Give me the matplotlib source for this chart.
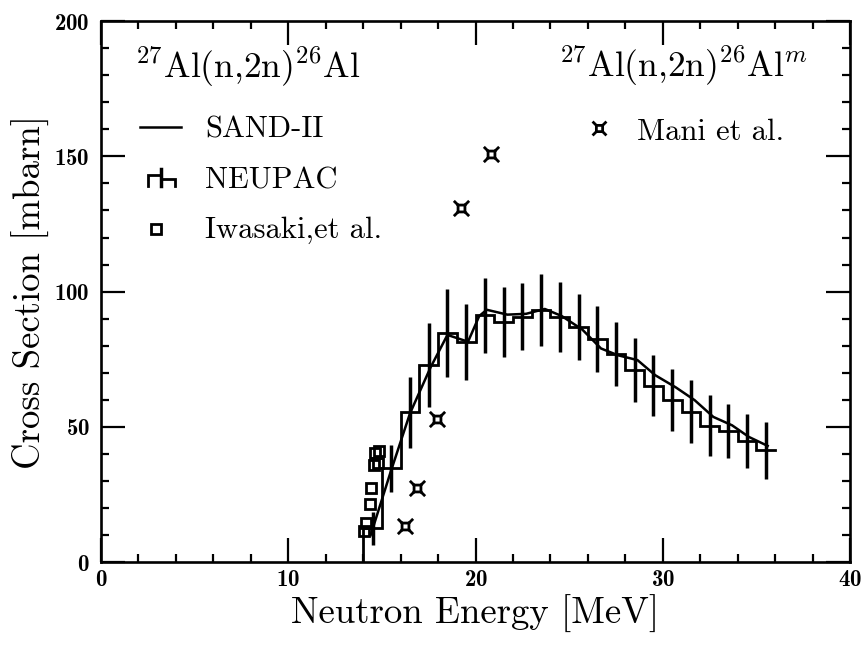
import matplotlib
matplotlib.use("Agg")
import matplotlib.pyplot as plt
from matplotlib.path import Path
from matplotlib.ticker import MultipleLocator

plt.rcParams['font.family'] = 'serif'
plt.rcParams['font.serif'] = ['cmr10', 'DejaVu Serif']
plt.rcParams['mathtext.fontset'] = 'cm'
plt.rcParams['axes.formatter.use_mathtext'] = True

# NEUPAC: 1 MeV bins from 14 to 36 MeV
neupac_edges = list(range(14, 37))
neupac_vals = [12.5, 34.7, 55.4, 72.8, 84.7, 81.4, 91.3, 88.8, 90.8, 93.3, 90.7,
               87.0, 82.5, 77.0, 71.0, 65.3, 60.0, 55.6, 50.5, 48.5, 44.8, 41.4]
neupac_err = [6.0, 8.7, 13.0, 15.5, 16.3, 14.2, 13.9, 13.0, 12.3, 13.3, 13.0,
              12.3, 12.3, 11.7, 11.7, 11.4, 11.4, 11.7, 11.4, 10.0, 9.9, 10.5]

# SAND-II evaluated curve
sand_e = [14.4, 15.45, 16.5, 17.6, 18.5, 19.6, 20.2, 20.6, 21.7, 22.7, 23.7, 24.6,
          25.7, 26.7, 27.6, 28.65, 29.6, 30.7, 31.7, 32.7, 33.7, 34.6, 35.6]
sand_xs = [10.0, 33.0, 55.0, 72.0, 84.0, 81.5, 91.0, 93.3, 91.5, 91.8, 93.6, 91.0,
           86.0, 79.0, 76.5, 74.7, 69.1, 64.6, 59.9, 53.7, 50.6, 46.3, 43.0]

# Iwasaki et al.
iwa_e = [14.05, 14.15, 14.35, 14.4, 14.6, 14.8, 14.65, 14.85]
iwa_xs = [11.5, 14.5, 21.5, 27.5, 36.0, 36.5, 40.5, 41.0]

# Mani et al. (26Al m)
mani_e = [16.25, 16.9, 17.95, 19.2, 20.85]
mani_xs = [13.5, 27.5, 53.0, 131.0, 151.0]

# marker: small square with diagonal spikes at the corners
s = 0.45
verts = [(-s, -s), (s, -s), (s, s), (-s, s), (-s, -s),
         (-s, -s), (-1, -1), (s, -s), (1, -1), (s, s), (1, 1), (-s, s), (-1, 1)]
codes = [Path.MOVETO, Path.LINETO, Path.LINETO, Path.LINETO, Path.CLOSEPOLY,
         Path.MOVETO, Path.LINETO, Path.MOVETO, Path.LINETO, Path.MOVETO, Path.LINETO,
         Path.MOVETO, Path.LINETO]
mani_marker = Path(verts, codes)

fig = plt.figure(figsize=(8.63, 6.47), dpi=100)
ax = fig.add_axes([0.117, 0.131, 0.868, 0.8365])

# NEUPAC histogram
hx = [neupac_edges[0]]
hy = [0]
for i, v in enumerate(neupac_vals):
    hx += [neupac_edges[i], neupac_edges[i + 1]]
    hy += [v, v]
ax.plot(hx, hy, color='black', lw=2.0, solid_joinstyle='miter')
centers = [(neupac_edges[i] + neupac_edges[i + 1]) / 2 for i in range(len(neupac_vals))]
ax.errorbar(centers, neupac_vals, yerr=neupac_err, fmt='none', ecolor='black',
            elinewidth=2.5, capsize=0)

ax.plot(sand_e, sand_xs, color='black', lw=1.8)
ax.plot(iwa_e, iwa_xs, ls='none', marker='s', ms=7, mfc='none', mec='black', mew=2.0)
ax.plot(mani_e, mani_xs, ls='none', marker=mani_marker, ms=11, mfc='none',
        mec='black', mew=2.0)

ax.set_xlim(0, 40)
ax.set_ylim(0, 200)
ax.xaxis.set_major_locator(MultipleLocator(10))
ax.xaxis.set_minor_locator(MultipleLocator(2))
ax.yaxis.set_major_locator(MultipleLocator(50))
ax.yaxis.set_minor_locator(MultipleLocator(10))
ax.tick_params(which='both', direction='in', top=True, right=True, width=1.6,
               labelsize=16.5, labelfontfamily='cmb10')
ax.tick_params(which='major', length=17)
ax.tick_params(which='minor', length=6)
ax.tick_params(axis='x', pad=5)
ax.tick_params(axis='y', pad=8)
for sp in ax.spines.values():
    sp.set_linewidth(1.9)

# text positions in axes fraction (from pixel layout)
def fx(px):
    return (px - 101) / 749.0

def fy(py):
    return (562 - py) / 541.0

ax.set_xlabel('Neutron Energy [MeV]', fontsize=26.5)
ax.xaxis.set_label_coords(0.5, fy(595))
ax.set_ylabel('Cross Section [mbarn]', fontsize=26.5)
ax.yaxis.set_label_coords(fx(50), 0.5)

ax.text(fx(135), fy(78), r'$^{27}$Al(n,2n)$^{26}$Al', transform=ax.transAxes,
        fontsize=25.5, ha='left', va='baseline')
ax.text(fx(808), fy(77), r'$^{27}$Al(n,2n)$^{26}$Al$^{m}$', transform=ax.transAxes,
        fontsize=25.5, ha='right', va='baseline')

# legend
ax.plot([fx(140), fx(181)], [fy(127), fy(127)], color='black', lw=1.8, transform=ax.transAxes)
ax.text(fx(205), fy(137), 'SAND-II', transform=ax.transAxes, fontsize=22, va='baseline')

nx = [fx(148), fx(148), fx(161), fx(161), fx(175), fx(175)]
ny = [fy(186), fy(175), fy(175), fy(179), fy(179), fy(186)]
ax.plot(nx, ny, color='black', lw=2.0, transform=ax.transAxes, solid_joinstyle='miter')
ax.plot([fx(161), fx(161)], [fy(169), fy(186)], color='black', lw=2.5, transform=ax.transAxes)
ax.text(fx(205), fy(188), 'NEUPAC', transform=ax.transAxes, fontsize=22, va='baseline')

ax.plot([fx(156)], [fy(229)], marker='s', ms=7, mfc='none', mec='black', mew=2.0,
        transform=ax.transAxes)
ax.text(fx(205), fy(238), 'Iwasaki,et al.', transform=ax.transAxes, fontsize=22, va='baseline')

ax.plot([fx(599)], [fy(128)], marker=mani_marker, ms=10, mfc='none', mec='black', mew=2.0,
        transform=ax.transAxes)
ax.text(fx(637), fy(140), 'Mani et al.', transform=ax.transAxes, fontsize=22, va='baseline')

fig.savefig('out.png', dpi=100)
